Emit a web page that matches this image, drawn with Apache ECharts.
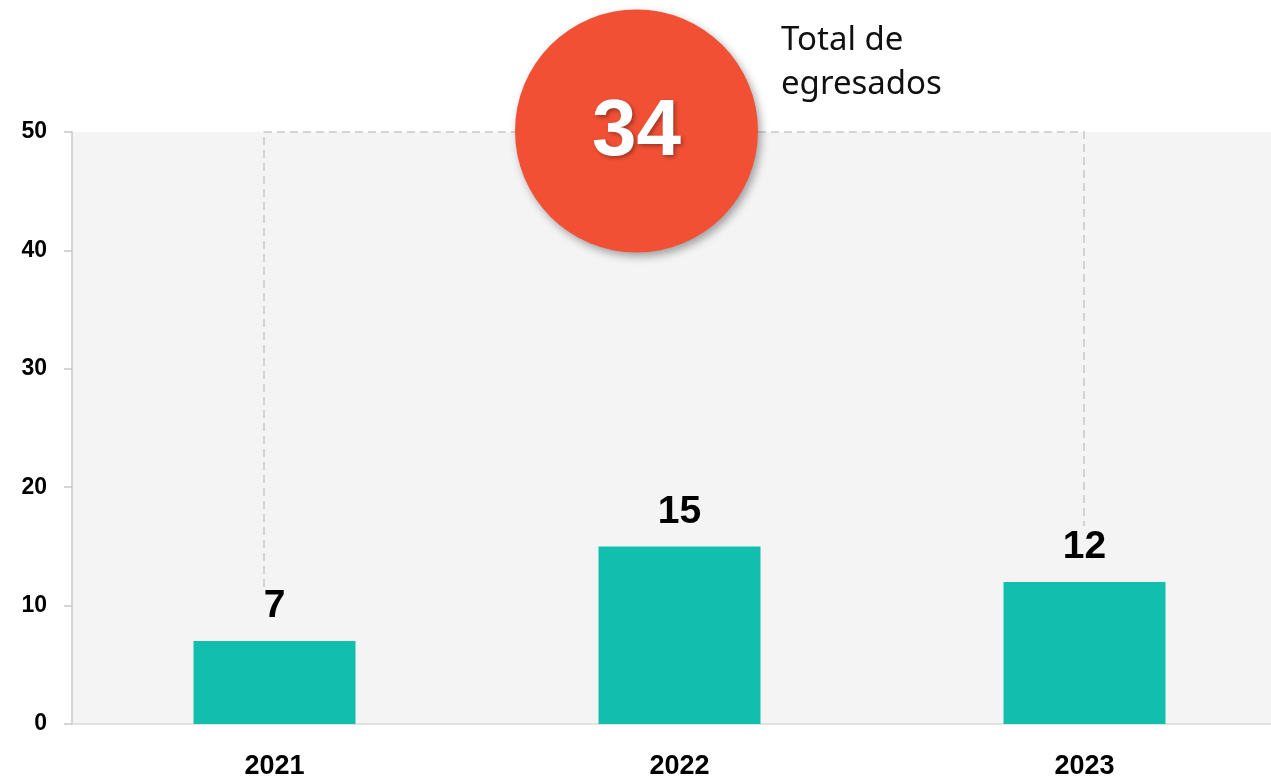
<!DOCTYPE html>
<html>
<head>
<meta charset="utf-8">
<script src="https://cdn.jsdelivr.net/npm/echarts@6/dist/echarts.min.js"></script>
<style>
  html, body { margin: 0; padding: 0; background: #ffffff; overflow: hidden; }
  /* the plot runs slightly past the right edge of the window */
  #chart { width: 1287px; height: 777px; }
</style>
</head>
<body>
<div id="chart"></div>
<script>
// Graduates per year
const years = ['2021', '2022', '2023'];
const graduates = [7, 15, 12];
const totalLabel = 'Total de\negresados';
const totalGraduates = graduates.reduce((a, b) => a + b, 0);

const chart = echarts.init(document.getElementById('chart'));

const option = {
  animation: false,
  grid: {
    left: 72, top: 132, right: 0, bottom: 53,
    outerBoundsMode: 'none',
    show: true, backgroundColor: '#f4f4f4', borderWidth: 0
  },
  xAxis: {
    type: 'category',
    data: years,
    axisLine: { show: true, lineStyle: { color: '#d9d9d9', width: 1.5 } },
    axisTick: { show: false },
    axisLabel: {
      margin: 29, fontSize: 27, fontWeight: 'bold', color: '#000',
      fontFamily: 'Liberation Sans, Arial, sans-serif'
    }
  },
  yAxis: {
    type: 'value',
    min: 0, max: 50, interval: 10,
    axisLine: { show: true, lineStyle: { color: '#c8c8c8', width: 1.5 } },
    axisTick: { show: true, length: 8, lineStyle: { color: '#c8c8c8', width: 1.5 } },
    splitLine: { show: false },
    axisLabel: {
      margin: 25, fontSize: 23, fontWeight: 'bold', color: '#000',
      fontFamily: 'Liberation Sans, Arial, sans-serif'
    }
  },
  series: [{
    type: 'bar',
    data: graduates,
    barWidth: '40%',
    itemStyle: { color: '#12bfae' },
    label: {
      show: true, position: 'top', distance: 15,
      fontSize: 39, fontWeight: 'bold', color: '#000',
      fontFamily: 'Liberation Sans, Arial, sans-serif'
    }
  }]
};
chart.setOption(option);

// Bracket connecting first and last year, plus the total badge
function drawOverlay() {
  const topY = chart.convertToPixel({ yAxisIndex: 0 }, 50);
  const firstX = chart.convertToPixel({ xAxisIndex: 0 }, years[0]) - 10.5;
  const lastX = chart.convertToPixel({ xAxisIndex: 0 }, years[years.length - 1]) - 0.5;
  const firstEnd = chart.convertToPixel({ yAxisIndex: 0 }, graduates[0]) - 54;
  const lastEnd = chart.convertToPixel({ yAxisIndex: 0 }, graduates[graduates.length - 1]) - 56;
  const dash = { stroke: '#c8c8c8', lineWidth: 1.5, lineDash: [8, 5] };
  const cx = 636.5, cy = topY - 1;

  chart.setOption({
    graphic: [
      {
        type: 'polyline', silent: true, z: 5,
        shape: { points: [[firstX, firstEnd], [firstX, topY], [lastX, topY], [lastX, lastEnd]] },
        style: Object.assign({ fill: null }, dash)
      },
      {
        type: 'circle', silent: true, z: 10,
        shape: { cx: cx, cy: cy, r: 121.5 },
        style: {
          fill: '#f25035',
          shadowBlur: 8, shadowOffsetX: 3, shadowOffsetY: 4,
          shadowColor: 'rgba(0,0,0,0.35)'
        }
      },
      {
        type: 'text', silent: true, z: 11,
        x: cx, y: cy + 2,
        style: {
          text: String(totalGraduates),
          fill: '#ffffff',
          font: 'bold 80px "Liberation Sans", Arial, sans-serif',
          align: 'center', verticalAlign: 'middle',
          textShadowBlur: 4, textShadowOffsetX: 2, textShadowOffsetY: 2,
          textShadowColor: 'rgba(0,0,0,0.35)'
        }
      },
      {
        type: 'text', silent: true, z: 11,
        x: 781, y: 19,
        style: {
          text: totalLabel,
          fill: '#111111',
          font: '33px "Noto Sans", sans-serif',
          lineHeight: 44,
          align: 'left', verticalAlign: 'top'
        }
      }
    ]
  });
}
drawOverlay();
</script>
</body>
</html>
